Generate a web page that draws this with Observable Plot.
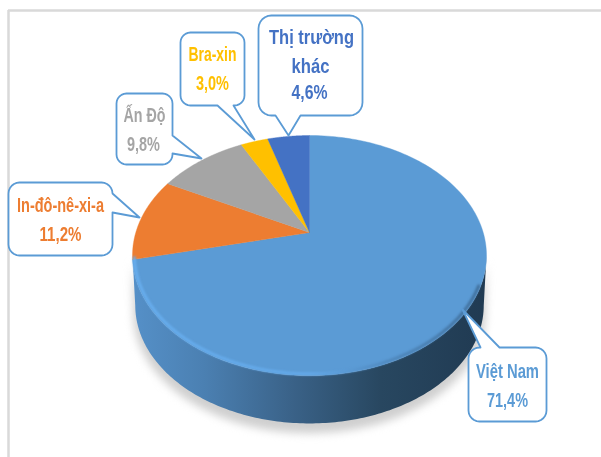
<!DOCTYPE html>
<html><head><meta charset="utf-8">
<script src="https://cdn.jsdelivr.net/npm/d3@7"></script>
<script src="https://cdn.jsdelivr.net/npm/@observablehq/plot@0.6"></script>
<style>html,body{margin:0;padding:0;background:#fff}svg{display:block}</style>
</head><body><div id="chart"></div>
<script>
const names = ["Việt Nam", "In-đô-nê-xi-a", "Ấn Độ", "Bra-xin", "Thị trường khác"];
const shares = [71.4, 11.2, 9.8, 3.0, 4.6];
const colors = ["#5B9BD5", "#ED7D31", "#A5A5A5", "#FFC000", "#4472C4"];
const labelLines = [["Việt Nam"], ["In-đô-nê-xi-a"], ["Ấn Độ"], ["Bra-xin"], ["Thị trường", "khác"]];

const W = 601, H = 457;
const cx = 309, cy = 232, a = 173.7, q = 115.6, p = 0.192, depth = 50.5;
const project = (th, r = 1, dy = 0) => {
  const u = r * Math.sin(th), v = r * Math.cos(th), w = 1 + p * v;
  return {x: cx + a * u / w, y: cy - q * v / w + dy};
};
const range = (t0, t1, n = 180) => d3.range(n + 1).map(i => t0 + (t1 - t0) * i / n);

let cum = 0;
const slices = names.flatMap((name, i) => {
  const t0 = cum / 100 * 2 * Math.PI; cum += shares[i];
  const t1 = cum / 100 * 2 * Math.PI;
  return [{x: cx, y: cy, name}, ...range(t0, t1).map(t => ({...project(t), name})), {x: cx, y: cy, name}];
});

const tExt = Math.acos(-p);
const frontArc = range(tExt, 2 * Math.PI - tExt);
const wall = [...frontArc.map(t => project(t, 0.985, depth)), ...frontArc.slice().reverse().map(t => project(t))];
const shadow = [...frontArc.map(t => project(t, 0.995, depth + 8)), ...frontArc.slice().reverse().map(t => project(t))];
const rim = range(tExt + 0.25, 2 * Math.PI - tExt - 0.02).map(t => project(t, 0.99));

const boxes = [
  {x0: 468, x1: 546, y0: 347, y1: 421, r: 11, side: "top", a: 499, b: 480, tip: [462, 309]},
  {x0: 8, x1: 112, y0: 182, y1: 255, r: 11, side: "right", a: 193, b: 212, tip: [139, 217]},
  {x0: 116, x1: 172, y0: 93, y1: 164, r: 10, side: "right", a: 135, b: 153, tip: [201, 158]},
  {x0: 180, x1: 244, y0: 32, y1: 105, r: 10, side: "bottom", a: 233, b: 217, tip: [254, 139]},
  {x0: 258, x1: 362, y0: 15, y1: 115, r: 13, side: "bottom", a: 300, b: 275, tip: [288, 135]}
];
// x, y and rendered width of each line of text
const textPos = [
  [[507, 371, 63], [507, 400, 41]],
  [[60, 205, 87], [60, 234, 42]],
  [[144, 115, 42], [143, 144, 33]],
  [[212, 54, 48], [212, 83, 33]],
  [[311, 37, 85], [310, 66, 38], [309, 92, 36]]
];

function corner(cxx, cyy, r, from) {
  return d3.range(0, 7).map(i => {
    const t = from + i / 6 * Math.PI / 2;
    return {x: cxx + r * Math.cos(t), y: cyy + r * Math.sin(t)};
  });
}
function outline(b, id) {
  const pts = [];
  const tip = {x: b.tip[0], y: b.tip[1]};
  pts.push(...corner(b.x0 + b.r, b.y0 + b.r, b.r, Math.PI));
  if (b.side === "top") pts.push({x: b.b, y: b.y0}, tip, {x: b.a, y: b.y0});
  pts.push(...corner(b.x1 - b.r, b.y0 + b.r, b.r, -Math.PI / 2));
  if (b.side === "right") pts.push({x: b.x1, y: b.a}, tip, {x: b.x1, y: b.b});
  pts.push(...corner(b.x1 - b.r, b.y1 - b.r, b.r, 0));
  if (b.side === "bottom") pts.push({x: b.a, y: b.y1}, tip, {x: b.b, y: b.y1});
  pts.push(...corner(b.x0 + b.r, b.y1 - b.r, b.r, Math.PI / 2));
  pts.push(pts[0]);
  return pts.map(d => ({...d, id}));
}
const callouts = boxes.flatMap((b, i) => outline(b, names[i]));

const textRows = names.flatMap((name, i) => {
  const lines = [...labelLines[i], shares[i].toFixed(1).replace(".", ",") + "%"];
  return lines.map((text, k) => ({text, name, x: textPos[i][k][0], y: textPos[i][k][1], w: textPos[i][k][2]}));
});

const defs = () => {
  const s = d3.create("svg:g");
  const d = s.append("defs");
  const g = d.append("linearGradient").attr("id", "wallGrad").attr("gradientUnits", "userSpaceOnUse")
    .attr("x1", 132).attr("x2", 487).attr("y1", 0).attr("y2", 0);
  [[0, "#5590c8"], [0.2, "#4b80b2"], [0.45, "#3a6288"], [0.7, "#284760"], [1, "#203a52"]].forEach(([o, c]) =>
    g.append("stop").attr("offset", o).attr("stop-color", c));
  const h = d.append("linearGradient").attr("id", "rimGrad").attr("gradientUnits", "userSpaceOnUse")
    .attr("x1", 132).attr("x2", 487).attr("y1", 0).attr("y2", 0);
  [[0, "#68aeee"], [0.5, "#64a9e9"], [0.72, "#4f88bd"], [1, "#3f6d98"]].forEach(([o, c]) =>
    h.append("stop").attr("offset", o).attr("stop-color", c));
  return s.node();
};

const plot = Plot.plot({
  width: W, height: H, margin: 0,
  x: {domain: [0, W], range: [0, W], axis: null},
  y: {domain: [0, H], range: [0, H], axis: null},
  color: {domain: names, range: colors},
  style: {background: "#fff", overflow: "hidden"},
  marks: [
    defs,
    Plot.ruleY([10], {x1: 8, x2: W, stroke: "#d9d9d9", strokeWidth: 2.5}),
    Plot.ruleX([8], {y1: 10, y2: H, stroke: "#d9d9d9", strokeWidth: 2.5}),
    Plot.line(shadow, {x: "x", y: "y", fill: "#cfcfcf", stroke: "none", imageFilter: "blur(4px)"}),
    Plot.line(wall, {x: "x", y: "y", fill: "url(#wallGrad)", stroke: "none"}),
    Plot.line(slices, {x: "x", y: "y", z: "name", fill: "name", stroke: "name", strokeWidth: 0.4}),
    Plot.line(rim, {x: "x", y: "y", stroke: "url(#rimGrad)", strokeWidth: 3, imageFilter: "blur(1.3px)"}),
    Plot.line(callouts, {x: "x", y: "y", z: "id", fill: "#fff", stroke: "#5B9BD5", strokeWidth: 1.8, strokeLinejoin: "round"}),
    Plot.text(textRows, {x: "x", y: "y", text: "text", fill: "name", fontFamily: "'Liberation Sans',sans-serif", fontWeight: 700, fontSize: 20, textAnchor: "middle", lineAnchor: "middle", imageFilter: "blur(0.35px)"})
  ]
});
document.getElementById("chart").append(plot);
// condense the labels to the narrow lettering of the reference
const rowsByText = new Map(textRows.map(r => [r.text, r]));
plot.querySelectorAll("text").forEach(t => {
  const r = rowsByText.get(t.textContent);
  if (r) { t.setAttribute("textLength", r.w); t.setAttribute("lengthAdjust", "spacingAndGlyphs"); }
});
</script></body></html>
